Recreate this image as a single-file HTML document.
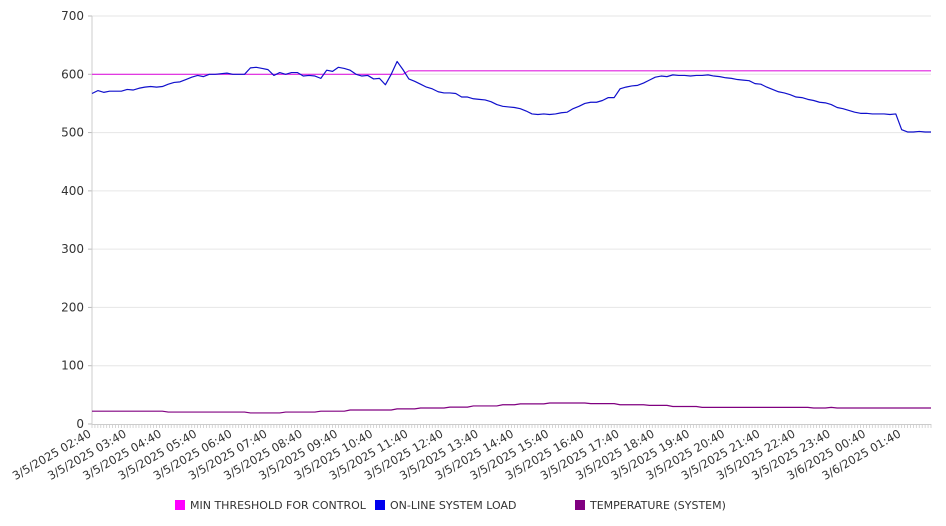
<!DOCTYPE html>
<html><head><meta charset="utf-8"><style>
html,body{margin:0;padding:0;background:#fff;}
svg{display:block;font-family:"DejaVu Sans","Liberation Sans",sans-serif;}
</style></head><body>
<svg id="chart" width="946" height="526" viewBox="0 0 946 526">
<g id="grid"></g>
<g id="axes"></g>
<g id="series"></g>
<g id="legend">
  <rect x="175" y="500" width="10" height="10" fill="#ff00ff"/>
  <text x="190" y="509" font-size="11" fill="#333">MIN THRESHOLD FOR CONTROL</text>
  <rect x="375" y="500" width="10" height="10" fill="#0000ee"/>
  <text x="390" y="509" font-size="11" fill="#333">ON-LINE SYSTEM LOAD</text>
  <rect x="575" y="500" width="10" height="10" fill="#800080"/>
  <text x="590" y="509" font-size="11" fill="#333">TEMPERATURE (SYSTEM)</text>
</g>
</svg>
<script>
const xLabels = ["3/5/2025 02:40","3/5/2025 03:40","3/5/2025 04:40","3/5/2025 05:40","3/5/2025 06:40","3/5/2025 07:40","3/5/2025 08:40","3/5/2025 09:40","3/5/2025 10:40","3/5/2025 11:40","3/5/2025 12:40","3/5/2025 13:40","3/5/2025 14:40","3/5/2025 15:40","3/5/2025 16:40","3/5/2025 17:40","3/5/2025 18:40","3/5/2025 19:40","3/5/2025 20:40","3/5/2025 21:40","3/5/2025 22:40","3/5/2025 23:40","3/6/2025 00:40","3/6/2025 01:40"];
const yTicks = [0,100,200,300,400,500,600,700];
const loadValues = [
567,572,569,571,571,571,
574,573,576,578,579,578,
579,583,586,587,591,595,
598,596,600,600,601,602,
600,600,600,611,612,610,
608,598,603,600,603,603,
597,598,597,593,607,605,
612,610,607,600,597,598,
592,593,582,600,622,608,
592,588,583,578,575,570,
568,568,567,561,561,558,
557,556,553,548,545,544,
543,541,537,532,531,532,
531,532,534,535,541,545,
550,552,552,555,560,560,
575,578,580,581,585,590,
595,597,596,599,598,598,
597,598,598,599,597,596,
594,593,591,590,589,584,
583,578,574,570,568,565,
561,560,557,555,552,551,
548,543,541,538,535,533,
533,532,532,532,531,532,
505,501,501,502,501,501];
const thresholdValues = [
600,600,600,600,600,600, 600,600,600,600,600,600, 600,600,600,600,600,600,
600,600,600,600,600,600, 600,600,600,600,600,600, 600,600,600,600,600,600,
600,600,600,600,600,600, 600,600,600,600,600,600, 600,600,600,600,600,600,
606,606,606,606,606,606, 606,606,606,606,606,606, 606,606,606,606,606,606,
606,606,606,606,606,606, 606,606,606,606,606,606, 606,606,606,606,606,606,
606,606,606,606,606,606, 606,606,606,606,606,606, 606,606,606,606,606,606,
606,606,606,606,606,606, 606,606,606,606,606,606, 606,606,606,606,606,606,
606,606,606,606,606,606, 606,606,606,606,606,606, 606,606,606,606,606,606];
const tempValues = [
22,22,22,22,22,22, 22,22,22,22,22,22, 22,20.5,20.5,20.5,20.5,20.5,
20.5,20.5,20.5,20.5,20.5,20.5, 20.5,20.5,20.5,19,19,19, 19,19,19,20.5,20.5,20.5,
20.5,20.5,20.5,22,22,22, 22,22,24,24,24,24, 24,24,24,24,26,26,
26,26,27.5,27.5,27.5,27.5, 27.5,29,29,29,29,31, 31,31,31,31,33,33,
33,34.5,34.5,34.5,34.5,34.5, 36,36,36,36,36,36, 36,35,35,35,35,35,
33,33,33,33,33,32, 32,32,32,30,30,30, 30,30,28.5,28.5,28.5,28.5,
28.5,28.5,28.5,28.5,28.5,28.5, 28.5,28.5,28.5,28.5,28.5,28.5, 28.5,28.5,28.5,27.5,27.5,27.5,
28.5,27.5,27.5,27.5,27.5,27.5, 27.5,27.5,27.5,27.5,27.5,27.5, 27.5,27.5,27.5,27.5,27.5,27.5];

const NS = "http://www.w3.org/2000/svg";
const L = 92, R = 931, T = 16, B = 424, YMAX = 700;
const N = loadValues.length;
function xPos(i){ return L + i * (R - L) / (N - 1); }
function yPos(v){ return B - v * (B - T) / YMAX; }
function mk(tag, attrs, parent){
  const e = document.createElementNS(NS, tag);
  for (const k in attrs) e.setAttribute(k, attrs[k]);
  parent.appendChild(e); return e;
}
const grid = document.getElementById('grid');
const axes = document.getElementById('axes');
const series = document.getElementById('series');

yTicks.forEach(v => {
  const y = yPos(v);
  if (v > 0) {
    const g = mk('line', {x1:L, x2:R, y1:y, y2:y, stroke:'#e6e6e6', 'stroke-width':1}, grid);
    
    
  }
  const t = mk('line', {x1:L-4, x2:L, y1:y, y2:y, stroke:'#bbb', 'stroke-width':1}, axes);
  
  
  const lb = mk('text', {x:L-8, y:y+4, 'text-anchor':'end', 'font-size':12, fill:'#333'}, axes);
  lb.textContent = v;
  
  
});
const ya = mk('line', {x1:L, x2:L, y1:T, y2:B, stroke:'#ccc', 'stroke-width':1}, axes);


const xa = mk('line', {x1:L, x2:R, y1:B+0.5, y2:B+0.5, stroke:'#ccc', 'stroke-width':1}, axes);


for (let h = 0; h <= (N - 1) * 2; h++) {
  const x = L + h * (R - L) / ((N - 1) * 2);
  const mt = mk('line', {x1:x, x2:x, y1:B, y2:B+4, stroke:'#ccc', 'stroke-width':0.8}, axes);
  
  
}
xLabels.forEach((s, k) => {
  const x = xPos(k * 6), y = B + 12;
  const t = mk('text', {x:x, y:y, 'text-anchor':'end', 'font-size':11.5, fill:'#333', transform:'rotate(-30 ' + x + ' ' + y + ')'}, axes);
  t.textContent = s;
  
  
});
function line(vals, color, name){
  const d = vals.map((v, i) => (i ? 'L' : 'M') + xPos(i).toFixed(2) + ' ' + yPos(v).toFixed(2)).join(' ');
  const p = mk('path', {d:d, fill:'none', stroke:color, 'stroke-width':1.2, 'stroke-linejoin':'round'}, series);
  
  
}
line(thresholdValues, '#e020e0', 'threshold-line');
line(tempValues, '#800080', 'temperature-line');
line(loadValues, '#1010cc', 'load-line');
</script>
</body></html>
